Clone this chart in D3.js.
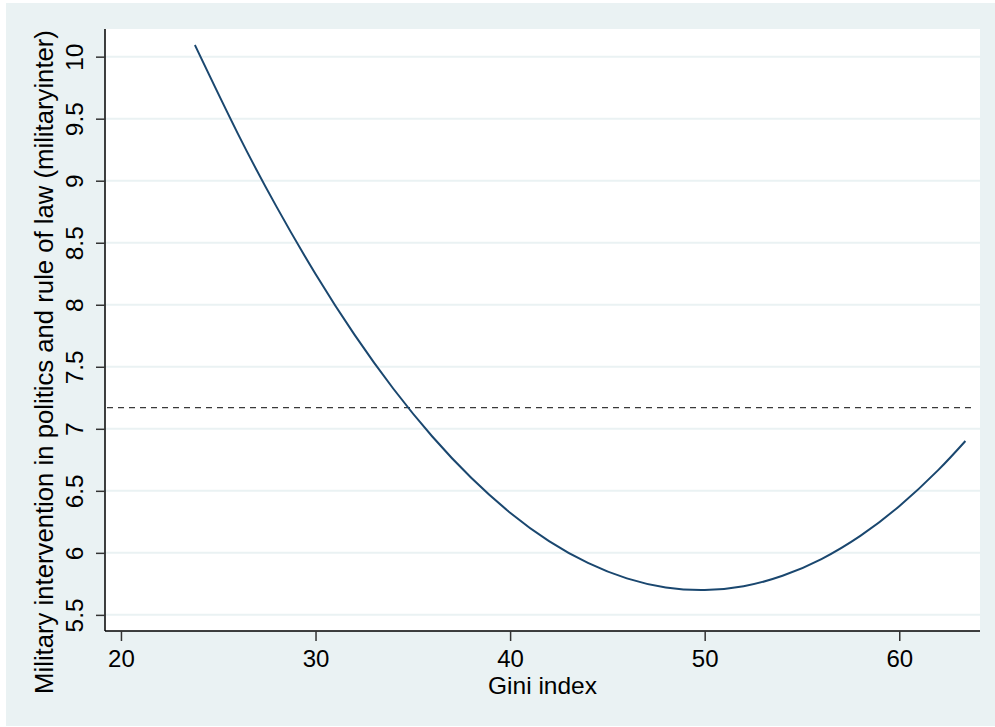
<!DOCTYPE html>
<html>
<head>
<meta charset="utf-8">
<script src="https://cdn.jsdelivr.net/npm/d3@7"></script>
<style>
  html, body { margin: 0; padding: 0; background: #ffffff; }
  svg { display: block; }
  text { font-family: "Liberation Sans", Arial, sans-serif; fill: #000; }
</style>
</head>
<body>
<svg id="chart" width="995" height="727"></svg>
<script>
// ---- Data ----
const giniValues = [23.8, 26, 28, 30, 32, 34, 36, 38, 40, 42, 44, 46, 48, 50, 52, 54, 56, 58, 60, 62, 63.4];
const fittedValues = [10.094, 9.382, 8.789, 8.248, 7.759, 7.323, 6.938, 6.605, 6.324, 6.095, 5.919, 5.794, 5.721, 5.700, 5.731, 5.815, 5.950, 6.137, 6.376, 6.667, 6.902];
const referenceLevel = 7.17;
const xTicks = [20, 30, 40, 50, 60];
const yTicks = [5.5, 6, 6.5, 7, 7.5, 8, 8.5, 9, 9.5, 10];
const xTitle = "Gini index";
const yTitle = "Military intervention in politics and rule of law (militaryinter)";

const points = giniValues.map((g, i) => ({ x: g, y: fittedValues[i] }));

const svg = d3.select("#chart");
const W = 995, H = 727;
const plot = { left: 105, right: 980, top: 29, bottom: 631 };

// backgrounds
svg.append("rect").attr("x", 6).attr("y", 3).attr("width", W - 6).attr("height", 723).attr("fill", "#EAF2F3");
svg.append("rect").attr("x", plot.left).attr("y", plot.top)
  .attr("width", plot.right - plot.left).attr("height", plot.bottom - plot.top).attr("fill", "#ffffff");

const x = d3.scaleLinear().domain([19.18, 64.15]).range([plot.left, plot.right]);
const y = d3.scaleLinear().domain([5.37, 10.223]).range([plot.bottom, plot.top]);

// gridlines
svg.append("g").selectAll("line").data(yTicks).join("line")
  .attr("x1", plot.left).attr("x2", plot.right)
  .attr("y1", d => y(d)).attr("y2", d => y(d))
  .attr("stroke", "#EAF2F3").attr("stroke-width", 2);

// reference dashed line
svg.append("line")
  .attr("x1", plot.left + 2).attr("x2", 974)
  .attr("y1", y(referenceLevel)).attr("y2", y(referenceLevel))
  .attr("stroke", "#3a3a3a").attr("stroke-width", 1.3)
  .attr("stroke-dasharray", "6,5");

// curve
const line = d3.line().x(d => x(d.x)).y(d => y(d.y)).curve(d3.curveNatural);
svg.append("path").datum(points)
  .attr("d", line)
  .attr("fill", "none").attr("stroke", "#1A476F").attr("stroke-width", 2);

// x axis
const xAxis = d3.axisBottom(x).tickValues(xTicks).tickSize(10).tickPadding(4).tickFormat(d3.format("d"));
const gx = svg.append("g").attr("transform", `translate(0,${plot.bottom})`).call(xAxis);
gx.select(".domain").attr("d", `M${plot.left},0H${plot.right}`).attr("stroke", "#000").attr("stroke-width", 1.5);
gx.selectAll(".tick line").attr("stroke", "#333").attr("stroke-width", 1.5);
gx.selectAll(".tick text").attr("font-size", 24).attr("font-family", "Liberation Sans, Arial, sans-serif")
  .attr("fill", "#000").attr("dy", null).attr("y", 36);

// y axis
const yAxis = d3.axisLeft(y).tickValues(yTicks).tickSize(9).tickFormat(d => String(d));
const gy = svg.append("g").attr("transform", `translate(${plot.left},0)`).call(yAxis);
gy.select(".domain").attr("d", `M0,${plot.top}V${plot.bottom}`).attr("stroke", "#000").attr("stroke-width", 1.5);
gy.selectAll(".tick line").attr("stroke", "#333").attr("stroke-width", 1.5);
gy.selectAll(".tick text")
  .attr("font-size", 24.5).attr("font-family", "Liberation Sans, Arial, sans-serif").attr("fill", "#000")
  .attr("x", null).attr("dy", null)
  .attr("text-anchor", "middle")
  .attr("transform", "translate(-22,0) rotate(-90)");

// titles
svg.append("text").attr("x", (plot.left + plot.right) / 2).attr("y", 694)
  .attr("text-anchor", "middle").attr("font-size", 24.5).text(xTitle);
svg.append("text").attr("transform", "translate(53,362) rotate(-90)")
  .attr("text-anchor", "middle").attr("font-size", 25.7).text(yTitle);
</script>
</body>
</html>
